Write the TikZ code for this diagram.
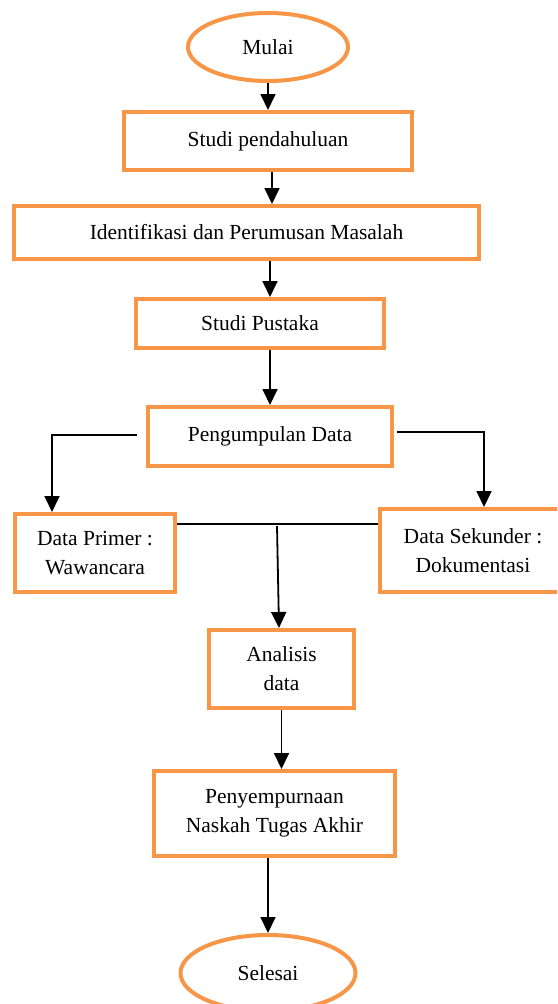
\documentclass[tikz,border=0pt]{standalone}
\usepackage{fontspec}
\setmainfont{Liberation Serif}
\usetikzlibrary{shapes.geometric,arrows.meta}
\definecolor{bord}{HTML}{F79646}
\begin{document}
\begin{tikzpicture}[x=1pt,y=-1pt,
  box/.style={draw=bord,line width=4pt,rectangle,inner sep=0pt,align=center,font=\fontsize{21.5}{29}\selectfont},
  oval/.style={draw=bord,line width=4pt,ellipse,inner sep=0pt,font=\fontsize{21.5}{29}\selectfont},
  arr/.style={line width=1.8pt,-{Triangle[width=15pt,length=16pt]}},
  ln/.style={line width=1.8pt}]
\useasboundingbox (0,0) rectangle (557,1004);
\clip (0,0) rectangle (557,1004);
\node[oval,minimum width=160,minimum height=68] (start) at (268,47) {Mulai};
\node[box,minimum width=288,minimum height=58] (s1) at (268,141) {Studi pendahuluan};
\node[box,minimum width=465,minimum height=53] (s2) at (246.5,232.5) {Identifikasi dan Perumusan Masalah};
\node[box,minimum width=248,minimum height=49] (s3) at (260,323.5) {Studi Pustaka};
\node[box,minimum width=244,minimum height=59] (s4) at (270,436.5) {Pengumpulan Data};
\node[box,minimum width=160,minimum height=78] (dp) at (95,553) {Data Primer :\\Wawancara};
\node[box,minimum width=186,minimum height=83] (ds) at (473,550.5) {Data Sekunder :\\Dokumentasi};
\node[box,minimum width=145,minimum height=78] (an) at (281.5,669) {Analisis\\data};
\node[box,minimum width=241,minimum height=85] (pn) at (274.5,813.5) {Penyempurnaan\\Naskah Tugas Akhir};
\node[oval,minimum width=175,minimum height=76] (end) at (268,973) {Selesai};
\coordinate (j) at (277,526);
\draw[arr] (start.south) -- (start.south |- s1.north);
\draw[arr] ([xshift=4]s1.south) -- ([xshift=4]s1.south |- s2.north);
\draw[arr] ([xshift=10]s3.north |- s2.south) -- ([xshift=10]s3.north);
\draw[arr] (s4.north |- s3.south) -- (s4.north);
\draw[arr] ([xshift=-9,yshift=1.5]s4.west) -| ([xshift=-43]dp.north);
\draw[arr] ([xshift=3,yshift=4.5]s4.east) -| ([xshift=11]ds.north);
\draw[ln] ([yshift=29]dp.east) -- ([yshift=26.5]ds.west);
\draw[arr] (j) -- ([xshift=-2.5]an.north);
\draw[arr] (an.south) -- (an.south |- pn.north);
\draw[arr] (end.north |- pn.south) -- (end.north);
\end{tikzpicture}
\end{document}
